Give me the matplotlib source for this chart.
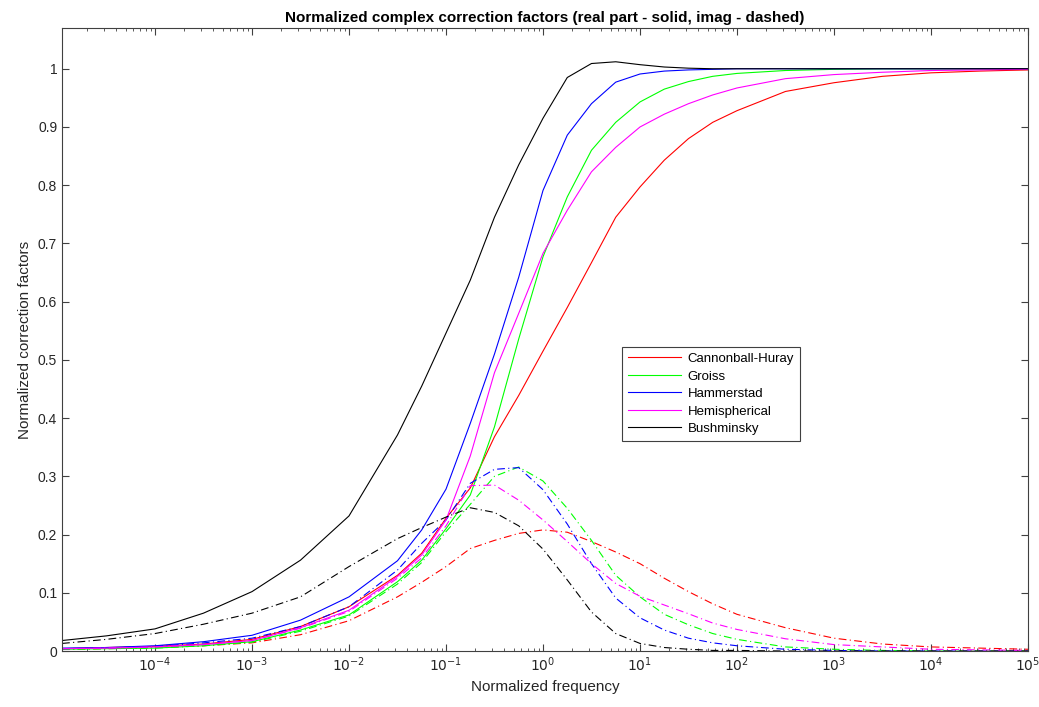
import numpy as np
import matplotlib
matplotlib.use("Agg")
import matplotlib.pyplot as plt
from matplotlib.ticker import FixedLocator, FixedFormatter

plt.rcParams['font.family'] = ['Liberation Sans', 'DejaVu Sans']

# normalized frequency (read at quarter/half decades)
freq = [1.1e-5, 3.16e-5, 1e-4, 3.16e-4, 1e-3, 3.16e-3, 1e-2, 3.16e-2, 5.62e-2,
        0.1, 0.178, 0.316, 0.562, 1.0, 1.78, 3.16, 5.62, 10.0, 17.8, 31.6, 56.2,
        100.0, 316.0, 1e3, 3.16e3, 1e4, 3.16e4, 1e5]

# real parts (solid)
huray_re = [0.004, 0.006, 0.008, 0.012, 0.020, 0.042, 0.076, 0.130, 0.168, 0.228,
            0.280, 0.368, 0.439, 0.515, 0.590, 0.667, 0.745, 0.797, 0.843, 0.880,
            0.908, 0.928, 0.961, 0.976, 0.987, 0.993, 0.996, 0.998]
groiss_re = [0.003, 0.004, 0.005, 0.009, 0.016, 0.036, 0.062, 0.119, 0.156, 0.210,
             0.268, 0.385, 0.536, 0.677, 0.780, 0.860, 0.908, 0.943, 0.965, 0.978,
             0.987, 0.992, 0.997, 0.999, 1.0, 1.0, 1.0, 1.0]
hammer_re = [0.005, 0.006, 0.009, 0.016, 0.027, 0.053, 0.093, 0.155, 0.208, 0.278,
             0.391, 0.510, 0.642, 0.791, 0.886, 0.940, 0.977, 0.991, 0.996, 0.998,
             0.999, 1.0, 1.0, 1.0, 1.0, 1.0, 1.0, 1.0]
hemi_re = [0.004, 0.005, 0.007, 0.011, 0.018, 0.040, 0.070, 0.128, 0.165, 0.225,
           0.335, 0.478, 0.580, 0.683, 0.757, 0.823, 0.865, 0.900, 0.922, 0.940,
           0.955, 0.967, 0.983, 0.990, 0.994, 0.997, 0.998, 0.999]
bush_re = [0.018, 0.026, 0.038, 0.065, 0.102, 0.156, 0.232, 0.371, 0.455, 0.546,
           0.637, 0.745, 0.835, 0.915, 0.985, 1.009, 1.012, 1.007, 1.003, 1.001,
           1.0, 1.0, 1.0, 1.0, 1.0, 1.0, 1.0, 1.0]

# imaginary parts (dash-dot)
huray_im = [0.003, 0.004, 0.006, 0.009, 0.014, 0.028, 0.052, 0.093, 0.118, 0.145,
            0.176, 0.190, 0.202, 0.208, 0.204, 0.188, 0.170, 0.150, 0.125, 0.102,
            0.081, 0.063, 0.040, 0.022, 0.012, 0.007, 0.005, 0.003]
groiss_im = [0.003, 0.004, 0.005, 0.009, 0.015, 0.034, 0.060, 0.115, 0.152, 0.205,
             0.252, 0.300, 0.316, 0.292, 0.245, 0.190, 0.130, 0.093, 0.063, 0.045,
             0.030, 0.020, 0.007, 0.003, 0.001, 0.0, 0.0, 0.0]
hammer_im = [0.004, 0.005, 0.008, 0.014, 0.022, 0.042, 0.076, 0.139, 0.185, 0.225,
             0.288, 0.312, 0.315, 0.277, 0.218, 0.150, 0.091, 0.057, 0.036, 0.022,
             0.014, 0.009, 0.003, 0.001, 0.0, 0.0, 0.0, 0.0]
hemi_im = [0.004, 0.005, 0.007, 0.011, 0.018, 0.039, 0.068, 0.125, 0.160, 0.215,
           0.284, 0.285, 0.259, 0.225, 0.188, 0.150, 0.116, 0.094, 0.079, 0.064,
           0.048, 0.037, 0.021, 0.011, 0.007, 0.003, 0.002, 0.001]
bush_im = [0.013, 0.020, 0.030, 0.046, 0.065, 0.093, 0.145, 0.193, 0.212, 0.230,
           0.246, 0.238, 0.215, 0.175, 0.122, 0.067, 0.030, 0.013, 0.006, 0.003,
           0.001, 0.001, 0.0, 0.0, 0.0, 0.0, 0.0, 0.0]

names = ['Cannonball-Huray', 'Groiss', 'Hammerstad', 'Hemispherical', 'Bushminsky']
colors = ['#ff0000', '#00ff00', '#0000ff', '#ff00ff', '#000000']
reals = [huray_re, groiss_re, hammer_re, hemi_re, bush_re]
imags = [huray_im, groiss_im, hammer_im, hemi_im, bush_im]

xt = [1e-4, 1e-3, 1e-2, 1e-1, 1e0, 1e1, 1e2, 1e3, 1e4, 1e5]
xt_labels = ['$10^{-4}$', '$10^{-3}$', '$10^{-2}$', '$10^{-1}$', '$10^{0}$',
             '$10^{1}$', '$10^{2}$', '$10^{3}$', '$10^{4}$', '$10^{5}$']
yt = [0, 0.1, 0.2, 0.3, 0.4, 0.5, 0.6, 0.7, 0.8, 0.9, 1.0]
yt_labels = ['0', '0.1', '0.2', '0.3', '0.4', '0.5', '0.6', '0.7', '0.8', '0.9', '1']

fig = plt.figure(figsize=(10.39, 7.07), dpi=100)
ax = fig.add_axes([0.0597, 0.0792, 0.9297, 0.8812])

for name, c, re, im in zip(names, colors, reals, imags):
    ax.plot(freq, re, color=c, lw=0.8, label=name)
    ax.plot(freq, im, color=c, lw=0.8, linestyle=(0, (7, 3, 1, 3)))

ax.set_xscale('log')
ax.set_xlim(1.1e-5, 1e5)
ax.set_ylim(0, 1.07)

minor = [m * 10.0 ** e for e in range(-5, 5) for m in range(2, 10)]
minor = [v for v in minor if v > 1.1e-5]
ax.xaxis.set_major_locator(FixedLocator(xt))
ax.xaxis.set_major_formatter(FixedFormatter(xt_labels))
ax.xaxis.set_minor_locator(FixedLocator(minor))
ax.xaxis.set_minor_formatter(FixedFormatter([''] * len(minor)))
ax.yaxis.set_major_locator(FixedLocator(yt))
ax.yaxis.set_major_formatter(FixedFormatter(yt_labels))

ax.tick_params(which='both', direction='in', top=True, right=True,
               colors='#404040', labelcolor='#262626', labelsize=10)
ax.tick_params(which='major', length=5)
ax.tick_params(which='minor', length=2.5)
for s in ax.spines.values():
    s.set_color('#404040')
    s.set_linewidth(0.8)

ax.set_xlabel('Normalized frequency', fontsize=11, color='#262626')
ax.set_ylabel('Normalized correction factors', fontsize=11, color='#262626')
ax.set_title('Normalized complex correction factors (real part - solid, imag - dashed)',
             fontsize=11, fontweight='bold', pad=4)

leg = ax.legend(loc='lower left', bbox_to_anchor=(0.58, 0.337), borderaxespad=0,
                fancybox=False, edgecolor='#404040', framealpha=1, fontsize=9.5,
                handlelength=4.0, borderpad=0.45, labelspacing=0.4,
                handletextpad=0.5)
leg.get_frame().set_linewidth(0.8)

fig.savefig('out.png', dpi=100)
